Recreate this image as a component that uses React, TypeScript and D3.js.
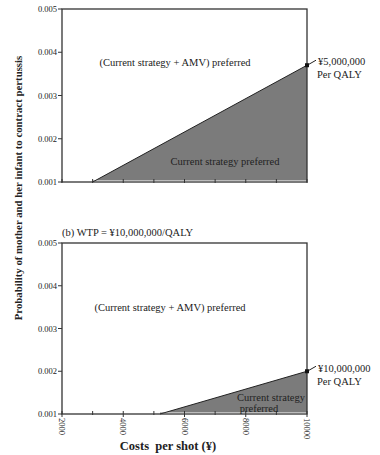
import React from "react";
import * as d3 from "d3";

const costDomain = [2000, 10000];
const probDomain = [0.001, 0.005];
const yTicks = [0.001, 0.002, 0.003, 0.004, 0.005];
const yTickLabels = ["0.001", "0.002", "0.003", "0.004", "0.005"];
const xTicks = [2000, 3000, 4000, 5000, 6000, 7000, 8000, 9000, 10000];
const xTickLabels = ["2000", "4000", "6000", "8000", "10000"];
const xLabelValues = [2000, 4000, 6000, 8000, 10000];

// threshold lines (cost, probability)
const thresholdA = [
  { cost: 3000, p: 0.001 },
  { cost: 10000, p: 0.0037 },
];
const thresholdB = [
  { cost: 5200, p: 0.001 },
  { cost: 10000, p: 0.002 },
];

const FONT = "'Liberation Serif', 'Times New Roman', serif";
const GRAY = "#7b7b7b";

function Panel({ top, bottom, data, wtpLabel, showXLabels, upperText, lowerText, lowerPos, labelYOff }) {
  const x = d3.scaleLinear().domain(costDomain).range([62, 307]);
  const y = d3.scaleLinear().domain(probDomain).range([bottom, top]);
  const area = d3
    .area<{ cost: number; p: number }>()
    .x((d) => x(d.cost))
    .y0(y(0.001) - 1.5)
    .y1((d) => y(d.p));
  const line = d3
    .line<{ cost: number; p: number }>()
    .x((d) => x(d.cost))
    .y((d) => y(d.p));
  const end = data[data.length - 1];
  const ex = x(end.cost);
  const ey = y(end.p);
  return (
    <g>
      <path d={area(data) || ""} fill={GRAY} />
      <path d={line(data) || ""} fill="none" stroke="#222" strokeWidth={1} />
      <rect x={x(costDomain[0])} y={top} width={x(costDomain[1]) - x(costDomain[0])} height={bottom - top} fill="none" stroke="#333" strokeWidth={1.3} />
      {yTicks.map((t, i) => (
        <g key={"y" + i}>
          <line x1={x(costDomain[0]) - 4} x2={x(costDomain[0])} y1={y(t)} y2={y(t)} stroke="#333" />
          <text x={x(costDomain[0]) - 5} y={y(t) + 3} fontSize={8.5} textAnchor="end" fontFamily={FONT} fill="#222">
            {yTickLabels[i]}
          </text>
        </g>
      ))}
      {xTicks.map((t, i) => (
        <line key={"x" + i} x1={x(t)} x2={x(t)} y1={bottom - 3} y2={bottom + (showXLabels && xLabelValues.includes(t) ? 3 : 1)} stroke="#333" />
      ))}
      {showXLabels &&
        xLabelValues.map((t, i) => (
          <text
            key={"xl" + i}
            transform={`translate(${x(t) - 3},${bottom + 4}) rotate(90)`}
            fontSize={8.5}
            fontFamily={FONT}
            fill="#222"
          >
            {xTickLabels[i]}
          </text>
        ))}
      <rect x={ex - 2} y={ey - 2} width={4} height={4} fill="#111" />
      <line x1={ex + 2} y1={ey - 1} x2={ex + 9} y2={ey - 5} stroke="#222" />
      <text x={ex + 11} y={ey + labelYOff} fontSize={10.5} fontFamily={FONT} fill="#222">
        {wtpLabel}
      </text>
      <text x={ex + 10} y={ey + labelYOff + 13} fontSize={10.5} fontFamily={FONT} fill="#222">
        Per QALY
      </text>
      <text x={upperText.x} y={upperText.y} fontSize={10.5} fontFamily={FONT} textAnchor="middle" fill="#222">
        (Current strategy + AMV) preferred
      </text>
      {lowerText.map((s, i) => (
        <text key={"lt" + i} x={lowerPos[i].x} y={lowerPos[i].y} fontSize={10.5} fontFamily={FONT} textAnchor="middle" fill="#222">
          {s}
        </text>
      ))}
    </g>
  );
}

export default function App() {
  return (
    <svg width={380} height={455} style={{ position: "absolute", left: 0, top: 0, background: "#fff" }}>
      <rect width={380} height={455} fill="#fff" />
      <Panel
        top={9}
        bottom={182}
        data={thresholdA}
        wtpLabel="¥5,000,000"
        showXLabels={false}
        upperText={{ x: 175, y: 66 }}
        lowerText={["Current strategy preferred"]}
        lowerPos={[{ x: 225, y: 165 }]}
        labelYOff={0}
      />
      <text x={62} y={236} fontSize={10.5} fontFamily={FONT} fill="#222">
        (b) WTP = ¥10,000,000/QALY
      </text>
      <Panel
        top={243}
        bottom={414}
        data={thresholdB}
        wtpLabel="¥10,000,000"
        showXLabels={true}
        upperText={{ x: 170, y: 311 }}
        lowerText={["Current strategy", "preferred"]}
        lowerPos={[{ x: 271, y: 401 }, { x: 259, y: 412 }]}
        labelYOff={1}
      />
      <text x={168} y={450} fontSize={12.5} fontWeight="bold" fontFamily={FONT} textAnchor="middle" fill="#222" style={{ whiteSpace: "pre" }}>
        Costs  per shot (¥)
      </text>
      <text
        transform="translate(22,188) rotate(-90)"
        fontSize={10.8}
        fontWeight="bold"
        fontFamily={FONT}
        textAnchor="middle"
        fill="#222"
      >
        Probability of mother and her infant to contract pertussis
      </text>
    </svg>
  );
}
